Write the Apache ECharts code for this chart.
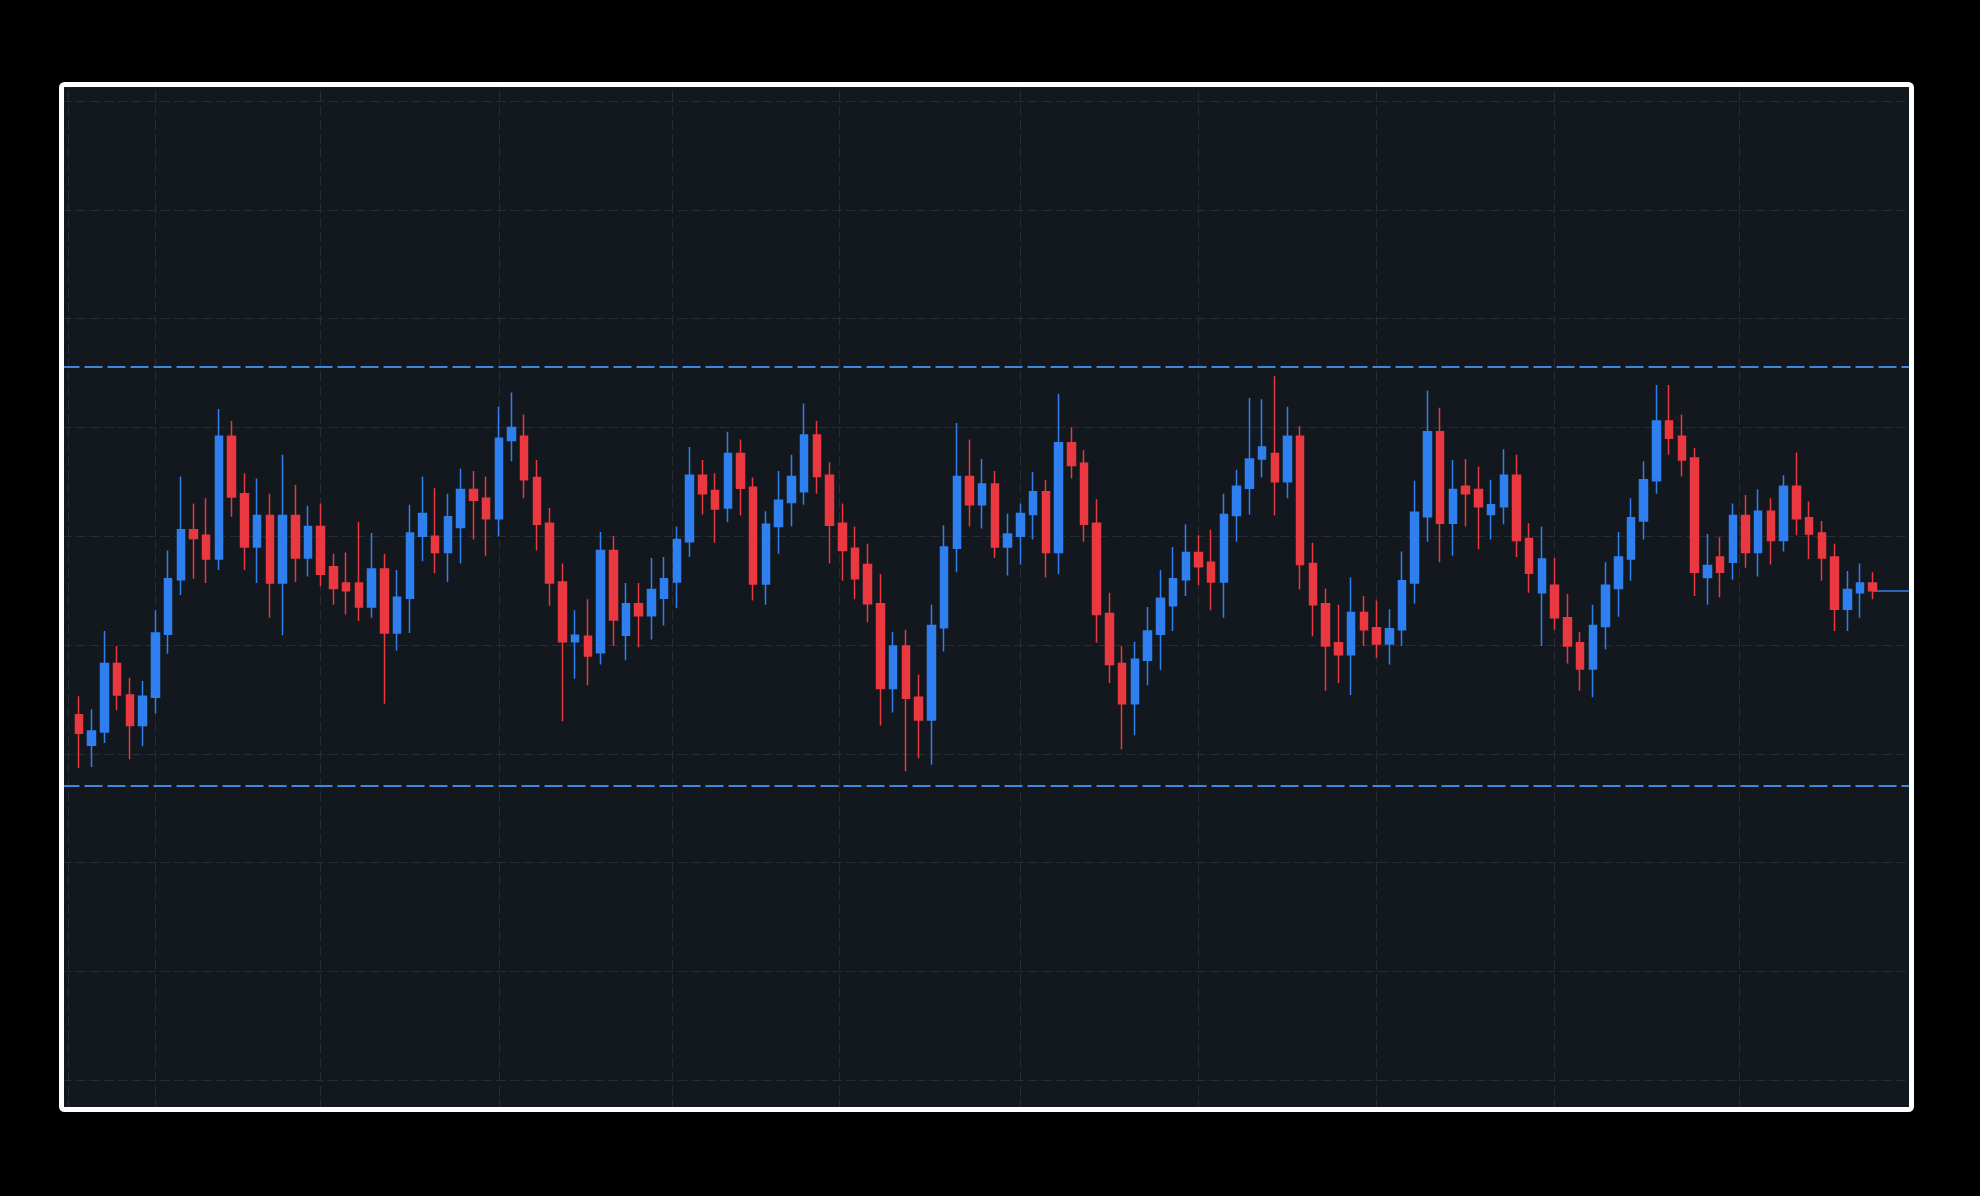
<!DOCTYPE html>
<html>
<head>
<meta charset="utf-8">
<script src="https://cdn.jsdelivr.net/npm/echarts@6/dist/echarts.min.js"></script>
<style>
  html, body { margin: 0; padding: 0; background: #000; }
  #chart { width: 1980px; height: 1196px; }
</style>
</head>
<body>
<div id="chart"></div>
<script>
// ---- data (price units; candle i sits at x = i) ----
const opens = [
  104.36,104.08,104.20,104.83,104.54,104.26,104.52,105.10,105.60,106.06,
  106.01,105.79,106.92,106.39,105.90,106.19,105.57,106.19,105.80,106.09,
  105.72,105.57,105.57,105.35,105.70,105.11,105.43,106.00,106.00,105.85,
  106.08,106.43,106.35,106.16,106.88,106.92,106.54,106.12,105.58,105.03,
  105.08,104.93,105.87,105.09,105.38,105.27,105.43,105.58,105.95,106.56,
  106.42,106.26,106.76,106.45,105.56,106.09,106.31,106.41,106.93,106.56,
  106.12,105.89,105.74,105.38,104.60,104.99,104.52,104.31,105.16,105.89,
  106.55,106.29,106.48,105.90,106.00,106.20,106.41,105.85,106.86,106.67,
  106.12,105.29,104.83,104.46,104.86,105.10,105.36,105.60,105.85,105.76,
  105.58,106.19,106.44,106.71,106.76,106.50,106.92,105.75,105.38,105.02,
  104.91,105.30,105.16,105.01,105.14,105.57,106.18,106.96,106.12,106.46,
  106.43,106.20,106.27,106.56,105.98,105.48,105.55,105.25,105.02,104.78,
  105.17,105.52,105.79,106.14,106.51,107.06,106.92,106.72,105.62,105.81,
  105.76,106.19,105.85,106.23,105.96,106.46,106.17,106.03,105.81,105.33,
  105.48,105.57
];
const closes = [
  104.19,104.21,104.83,104.54,104.26,104.53,105.11,105.61,106.06,105.98,
  105.79,106.92,106.36,105.90,106.19,105.57,106.19,105.80,106.09,105.65,
  105.52,105.50,105.35,105.70,105.11,105.44,106.03,106.21,105.85,106.18,
  106.43,106.33,106.16,106.90,107.00,106.52,106.11,105.57,105.03,105.09,
  104.90,105.87,105.23,105.38,105.27,105.51,105.61,105.97,106.56,106.39,
  106.25,106.76,106.44,105.56,106.11,106.33,106.55,106.93,106.55,106.10,
  105.87,105.61,105.38,104.60,104.99,104.51,104.31,105.18,105.90,106.55,
  106.29,106.48,105.90,106.02,106.21,106.41,105.85,106.86,106.65,106.11,
  105.28,104.82,104.46,104.87,105.13,105.43,105.61,105.85,105.72,105.58,
  106.20,106.46,106.71,106.82,106.50,106.92,105.74,105.37,104.99,104.91,
  105.30,105.14,105.01,105.15,105.59,106.22,106.96,106.12,106.43,106.39,
  106.27,106.29,106.56,105.96,105.66,105.79,105.25,104.99,104.78,105.18,
  105.55,105.81,106.17,106.52,107.06,106.90,106.70,105.67,105.73,105.67,
  106.19,105.85,106.23,105.96,106.46,106.16,106.02,105.80,105.33,105.51,
  105.57,105.50
];
const lows = [
  103.87,103.88,104.10,104.40,103.95,104.07,104.37,104.92,105.46,105.61,
  105.57,105.69,106.18,105.69,105.57,105.25,105.09,105.58,105.63,105.54,
  105.37,105.28,105.22,105.25,104.46,104.95,105.11,105.77,105.66,105.58,
  105.75,105.97,105.82,106.00,106.69,106.35,105.87,105.36,104.30,104.69,
  104.63,104.82,104.99,104.86,104.98,105.05,105.18,105.34,105.81,106.20,
  105.94,106.13,106.19,105.41,105.37,105.84,106.09,106.29,106.39,105.75,
  105.59,105.42,105.21,104.26,104.38,103.84,103.96,103.90,104.94,105.67,
  106.09,106.07,105.80,105.64,105.74,105.97,105.62,105.65,106.53,105.95,
  105.02,104.65,104.04,104.17,104.63,104.77,105.13,105.45,105.55,105.32,
  105.25,105.95,106.20,106.54,106.19,106.35,105.51,105.08,104.58,104.65,
  104.54,104.99,104.88,104.82,104.99,105.38,105.95,105.76,105.82,106.09,
  105.88,105.97,106.11,105.81,105.48,104.99,105.14,104.83,104.58,104.52,
  104.96,105.26,105.59,105.97,106.39,106.75,106.55,105.45,105.37,105.44,
  105.60,105.71,105.63,105.74,105.86,106.01,105.79,105.59,105.13,105.13,
  105.25,105.42
];
const highs = [
  104.53,104.41,105.13,104.99,104.70,104.67,105.32,105.87,106.55,106.30,
  106.35,107.17,107.06,106.58,106.53,106.39,106.75,106.47,106.28,106.30,
  105.84,105.85,106.13,106.03,105.84,105.69,106.29,106.55,106.44,106.39,
  106.62,106.60,106.55,107.19,107.32,107.12,106.70,106.26,105.75,105.32,
  105.42,106.04,106.00,105.57,105.57,105.80,105.81,106.09,106.82,106.70,
  106.58,106.96,106.89,106.54,106.23,106.60,106.75,107.22,107.06,106.68,
  106.30,106.09,105.93,105.65,105.12,105.14,104.73,105.37,106.10,107.04,
  106.89,106.71,106.60,106.21,106.30,106.59,106.52,107.31,107.00,106.79,
  106.34,105.48,104.99,105.03,105.35,105.69,105.90,106.11,106.01,106.06,
  106.39,106.61,107.27,107.26,107.47,107.19,107.01,105.94,105.52,105.37,
  105.62,105.45,105.41,105.33,105.86,106.51,107.34,107.18,106.70,106.71,
  106.64,106.52,106.80,106.75,106.12,106.09,105.80,105.47,105.12,105.37,
  105.76,106.04,106.35,106.69,107.39,107.39,107.12,106.81,106.02,105.99,
  106.30,106.38,106.43,106.35,106.56,106.77,106.32,106.14,105.93,105.68,
  105.75,105.67
];
// vertical grid lines (in candle-index units) and the two horizontal level lines
const verticalGridTicks = [-0.85, 6, 19, 33, 46.6, 59.8, 74, 88, 102, 116, 130.5];
const levelLines = [107.56, 103.71];

// ---- build ----
const candleData = opens.map((o, i) => [i, o, closes[i], lows[i], highs[i]]);
const lastIdx = opens.length - 1;
const lastClose = closes[lastIdx];

const X_MIN = -1.376, X_MAX = 144.05;
const Y_MIN = 100.731, Y_MAX = 110.152;

const GRID_COLOR = '#272c35';
const UP = '#2f7fef';
const DOWN = '#ea3841';
const LEVEL = '#3f86dc';

const markData = [];
verticalGridTicks.forEach(v => markData.push({
  xAxis: v,
  lineStyle: { color: GRID_COLOR, width: 1, type: [10, 4] }
}));
levelLines.forEach(v => markData.push({
  yAxis: v,
  lineStyle: { color: LEVEL, width: 2, type: [18, 5] }
}));
markData.push([
  { coord: [lastIdx, lastClose], lineStyle: { color: UP, width: 1.5, type: 'solid' } },
  { coord: [X_MAX, lastClose] }
]);

const chart = echarts.init(document.getElementById('chart'), null, { renderer: 'canvas' });
chart.setOption({
  backgroundColor: '#000000',
  animation: false,
  grid: {
    left: 61.5, top: 84.5, width: 1850, height: 1025,
    show: true, backgroundColor: '#13171e', borderWidth: 0
  },
  xAxis: {
    type: 'value', min: X_MIN, max: X_MAX, show: false,
    splitLine: { show: false }
  },
  yAxis: {
    type: 'value', min: Y_MIN, max: Y_MAX, scale: true,
    splitNumber: 9, minInterval: 1, maxInterval: 1,
    axisLine: { show: false }, axisTick: { show: false }, axisLabel: { show: false },
    splitLine: {
      show: true, showMinLine: false, showMaxLine: false,
      lineStyle: { color: GRID_COLOR, width: 1, type: [10, 4] }
    }
  },
  series: [{
    type: 'candlestick',
    data: candleData,
    barWidth: 8,
    z: 2,
    itemStyle: {
      color: UP, color0: DOWN,
      borderColor: UP, borderColor0: DOWN,
      borderWidth: 1.5
    },
    markLine: {
      silent: true,
      z: 1,
      symbol: ['none', 'none'],
      label: { show: false },
      emphasis: { disabled: true },
      data: markData
    }
  }],
  graphic: [{
    type: 'rect',
    silent: true,
    z: 100,
    shape: { x: 61.5, y: 84.5, width: 1850, height: 1025, r: 3 },
    style: { fill: 'transparent', stroke: '#ffffff', lineWidth: 5 }
  }]
});
</script>
</body>
</html>
